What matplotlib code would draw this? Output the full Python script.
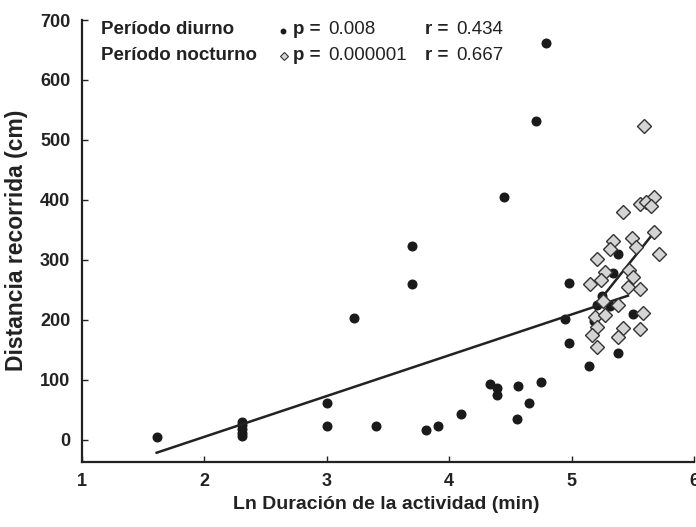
import matplotlib
matplotlib.use("Agg")
import matplotlib.pyplot as plt
import numpy as np
from matplotlib.lines import Line2D

# Período diurno (black points)
dia_x = [1.61, 2.31, 2.31, 2.31, 2.31, 2.31, 3.00, 3.00, 3.22, 3.40,
         3.70, 3.70, 3.81, 3.91, 4.10, 4.33, 4.39, 4.39, 4.56, 4.55,
         4.65, 4.75, 4.45, 4.71, 4.79, 4.98, 4.95, 4.98, 5.14, 5.38,
         5.50, 5.38, 5.34, 5.25, 5.21, 5.31, 5.18]
dia_y = [5, 30, 24, 18, 12, 6, 62, 23, 203, 23,
         323, 260, 17, 23, 43, 93, 87, 75, 90, 35,
         62, 97, 405, 532, 662, 262, 202, 162, 123, 145,
         210, 310, 278, 240, 225, 223, 198]

# Período nocturno (grey diamonds)
noc_x = [5.59, 5.67, 5.56, 5.61, 5.65, 5.42, 5.67, 5.71, 5.34, 5.31,
         5.49, 5.53, 5.21, 5.27, 5.24, 5.15, 5.47, 5.50, 5.46, 5.56,
         5.26, 5.38, 5.19, 5.27, 5.58, 5.21, 5.17, 5.42, 5.38, 5.56,
         5.21]
noc_y = [523, 405, 393, 397, 390, 380, 347, 310, 332, 318,
         337, 322, 302, 280, 267, 260, 283, 272, 255, 252,
         232, 225, 205, 208, 212, 188, 175, 187, 172, 185,
         155]

# regression lines: slope, intercept, x range
dia_fit = (68.0, -131.0, 1.61, 5.46)
noc_fit = (255.0, -1101.0, 5.20, 5.67)

W, H = 696, 527
plt.rcParams["font.family"] = ["Liberation Sans", "DejaVu Sans"]
dark = "#222222"

fig = plt.figure(figsize=(W / 100, H / 100), dpi=100)
ax = fig.add_axes([82 / W, 1 - 462 / H, (694 - 82) / W, (462 - 20) / H])

for slope, icpt, x0, x1 in (dia_fit, noc_fit):
    xs = np.array([x0, x1])
    ax.plot(xs, icpt + slope * xs, color=dark, lw=1.8, zorder=3)

ax.plot(dia_x, dia_y, "o", ms=6.2, color="#1a1a1a", mec="#1a1a1a", zorder=2)
ax.plot(noc_x, noc_y, "D", ms=7.4, mfc="#d4d4d4", mec="#333333", mew=1.0,
        zorder=4)

ax.set_xlim(1, 6)
ax.set_ylim(-37, 700)
ax.set_xticks([1, 2, 3, 4, 5, 6])
ax.set_yticks(range(0, 701, 100))
for s in ("top", "right"):
    ax.spines[s].set_visible(False)
for s in ("left", "bottom"):
    ax.spines[s].set_linewidth(1.6)
    ax.spines[s].set_color(dark)
ax.tick_params(direction="in", length=4, width=1, colors=dark,
               labelsize=13)
ax.tick_params(axis="x", pad=8)
ax.tick_params(axis="y", pad=8.5)
for lab in ax.get_xticklabels() + ax.get_yticklabels():
    lab.set_fontweight("bold")
    lab.set_color(dark)

ax.set_xlabel("Ln Duración de la actividad (min)", fontsize=14,
              fontweight="bold", color=dark, va="center")
ax.xaxis.set_label_coords(0.497, -0.097)
ax.set_ylabel("Distancia recorrida (cm)", fontsize=16.5,
              fontweight="bold", color=dark, va="center")
ax.yaxis.set_label_coords(-0.107, 0.502)

# legend-like annotation
def ftxt(px, py, s, bold=False):
    fig.text(px / W, 1 - py / H, s, fontsize=13.5, color=dark, va="center",
             ha="left", fontweight="bold" if bold else "normal")

rows = [("Período diurno", "0.008", "0.434", 30),
        ("Período nocturno", "0.000001", "0.667", 55)]
for name, p, r, py in rows:
    ftxt(101, py, name, bold=True)
    ftxt(293, py, "p =", bold=True)
    ftxt(328, py, p)
    ftxt(425, py, "r =", bold=True)
    ftxt(456, py, r)

fig.add_artist(Line2D([283 / W], [1 - 31 / H], marker="o", ms=3.2,
                      color="#1a1a1a", transform=fig.transFigure))
fig.add_artist(Line2D([284 / W], [1 - 56 / H], marker="D", ms=4,
                      mfc="#d4d4d4", mec="#333333", mew=0.8,
                      transform=fig.transFigure))

fig.savefig("out.png", dpi=100)
